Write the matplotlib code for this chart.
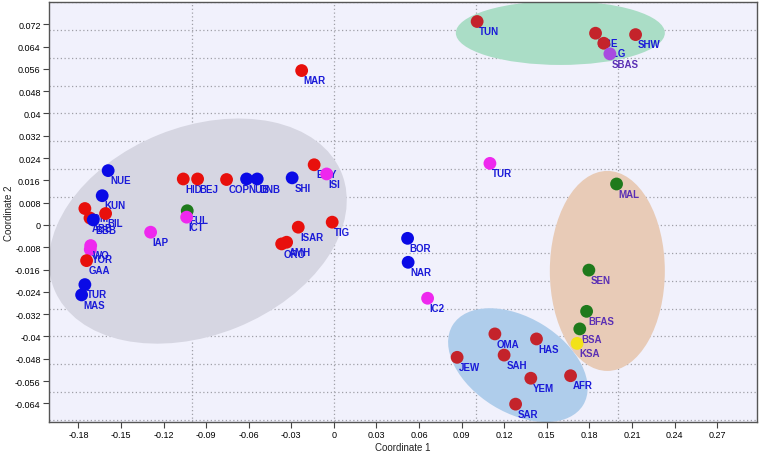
import numpy as np
import matplotlib
matplotlib.use("Agg")
import matplotlib.pyplot as plt
from matplotlib.patches import Ellipse
from matplotlib.transforms import ScaledTranslation

plt.rcParams['font.family'] = ['Liberation Sans Narrow', 'Liberation Sans', 'DejaVu Sans']

# population labels, coordinates (MDS) and marker colour group
names = ['NUE', 'KUN', 'SOM', 'BIL', 'ABB', 'BBB', 'YOR', 'WO', 'GAA', 'TUR', 'MAS',
         'IAP', 'FUL', 'ICT', 'HID', 'BEJ', 'COP', 'NUB', 'DNB', 'SHI', 'EGY', 'ISI',
         'TIG', 'ISAR', 'ORO', 'AMH', 'MAR', 'TUR', 'BOR', 'NAR', 'IC2',
         'TUN', 'NBE', 'ALG', 'SBAS', 'SHW',
         'OMA', 'HAS', 'JEW', 'SAH', 'YEM', 'AFR', 'SAR',
         'MAL', 'SEN', 'BFAS', 'BSA', 'KSA']
coord1 = [-0.159, -0.1632, -0.1754, -0.1608, -0.1718, -0.1695, -0.1716, -0.1713, -0.1742, -0.1754, -0.1777,
          -0.1291, -0.1033, -0.1037, -0.1061, -0.0960, -0.0756, -0.0615, -0.0540, -0.0294, -0.0139, -0.0051,
          -0.0012, -0.0251, -0.0368, -0.0333, -0.0227, 0.1099, 0.0519, 0.0523, 0.0660,
          0.1009, 0.1843, 0.1901, 0.1944, 0.2125,
          0.1134, 0.1427, 0.0868, 0.1199, 0.1387, 0.1667, 0.1280,
          0.1991, 0.1796, 0.1780, 0.1732, 0.1713]
coord2 = [0.0195, 0.0105, 0.0059, 0.0041, 0.0025, 0.0018, -0.0088, -0.0074, -0.0128, -0.0214, -0.0251,
          -0.0026, 0.0051, 0.0028, 0.0165, 0.0165, 0.0163, 0.0165, 0.0165, 0.0169, 0.0216, 0.0183,
          0.0010, -0.0008, -0.0068, -0.0062, 0.0554, 0.0221, -0.0048, -0.0134, -0.0263,
          0.0730, 0.0688, 0.0652, 0.0614, 0.0683,
          -0.0391, -0.0409, -0.0475, -0.0467, -0.0550, -0.0541, -0.0643,
          0.0147, -0.0162, -0.0310, -0.0373, -0.0425]
groups = ['b', 'b', 'r', 'r', 'r', 'b', 'm', 'm', 'r', 'b', 'b',
          'm', 'g', 'm', 'r', 'r', 'r', 'b', 'b', 'b', 'r', 'm',
          'r', 'r', 'r', 'r', 'r', 'm', 'b', 'b', 'm',
          'd', 'd', 'd', 'v', 'd',
          'd', 'd', 'd', 'd', 'd', 'd', 'd',
          'g', 'g', 'g', 'g', 'y']

# cluster ellipses: centre (data), width/height (pixels), angle (deg), colour
clusters = [(-0.0958, -0.0022, 310, 208, 22, '#d6d6e2'),
            (0.1595, 0.0689, 209, 64, 0, '#aaddc6'),
            (0.1926, -0.0165, 115, 200, 0, '#e8cbb7'),
            (0.1296, -0.0503, 153, 95, -31.5, '#afcdeb')]

colors = {'r': '#e8100c', 'd': '#c4232b', 'b': '#0a0ae6', 'm': '#ee28ee',
          'g': '#1f7a1c', 'y': '#f2e21a', 'v': '#a84be0'}
purple_labels = {'MAL', 'SEN', 'BFAS', 'BSA', 'KSA', 'SBAS'}

fig = plt.figure(figsize=(7.65, 4.56), dpi=100)
ax = fig.add_axes([0.064, 0.0724, 0.9255, 0.921])
ax.set_facecolor('#f1f1fc')
ax.set_xlim(-0.2007, 0.298)
ax.set_ylim(-0.0707, 0.080)

# dotted grid (every 0.1 on x, 0.01 on y)
for gx in np.arange(-0.1, 0.25, 0.1):
    ax.axvline(gx, color='#a0a0a8', ls=(0, (1, 2)), lw=0.9, zorder=0.5)
for gy in np.arange(-0.07, 0.08, 0.01):
    ax.axhline(gy, color='#a0a0a8', ls=(0, (1, 2)), lw=0.9, zorder=0.5)

for cx, cy, w, h, ang, c in clusters:
    tr = fig.dpi_scale_trans + ScaledTranslation(cx, cy, ax.transData)
    ax.add_patch(Ellipse((0, 0), w / 100, h / 100, angle=ang, transform=tr,
                         facecolor=c, edgecolor='none', zorder=1))

for n, x, y, g in zip(names, coord1, coord2, groups):
    ax.scatter([x], [y], s=85, color=colors[g], edgecolors='none', zorder=3)
    tc = '#5a2fb4' if n in purple_labels else '#1a1ad8'
    ax.annotate(n, (x, y), xytext=(1.5, -7), textcoords='offset points',
                fontsize=7, fontweight='bold', color=tc, va='center', ha='left', zorder=3)

xt = np.round(np.arange(-0.18, 0.28, 0.03), 2)
ax.set_xticks(xt)
ax.set_xticklabels([('%g' % v) for v in xt])
yt = np.round(np.arange(-0.064, 0.073, 0.008), 3)
ax.set_yticks(yt)
ax.set_yticklabels([('%g' % v) for v in yt])
ax.tick_params(labelsize=6.5, length=4, width=0.8, color='#444444', pad=2)
for s in ax.spines.values():
    s.set_color('#555555')
    s.set_linewidth(1)

ax.set_xlabel('Coordinate 1', fontsize=7, labelpad=2, color='#222222')
ax.set_ylabel('Coordinate 2', fontsize=7, labelpad=1, color='#222222')

fig.savefig('out.png', dpi=100)
